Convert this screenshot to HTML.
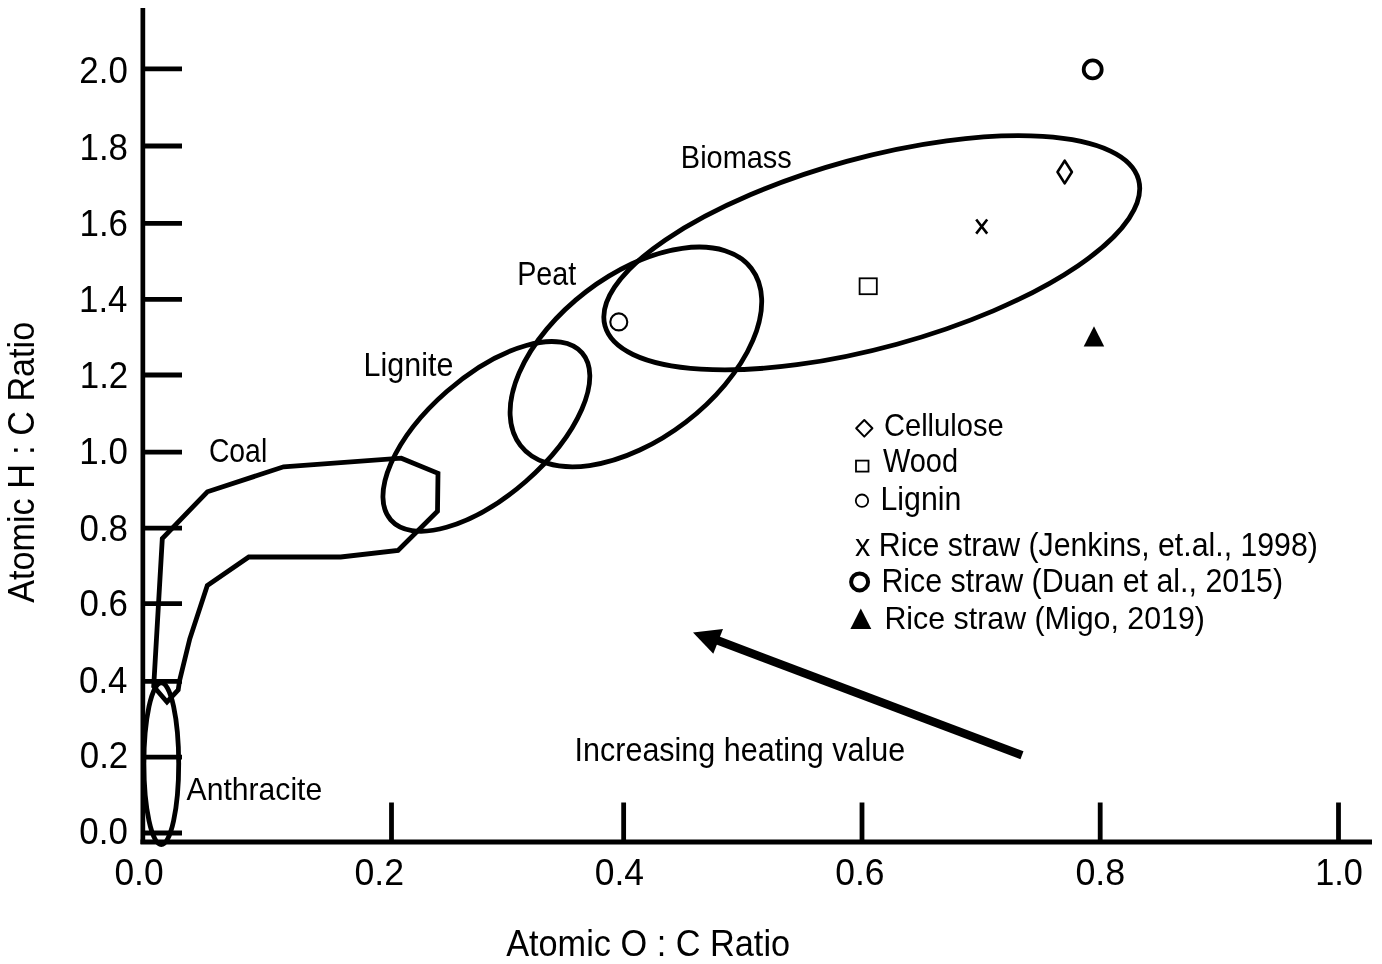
<!DOCTYPE html>
<html><head><meta charset="utf-8"><style>
html,body{margin:0;padding:0;background:#fff;width:1382px;height:964px;overflow:hidden}
svg{display:block;will-change:transform}
text{font-family:"Liberation Sans",sans-serif}
</style></head><body>
<svg width="1382" height="964" viewBox="0 0 1382 964">
<rect width="1382" height="964" fill="#fff"/>
<g fill="none" stroke="#000" stroke-width="4.8">
<path d="M142.85 8 V844" stroke-width="4.7"/>
<path d="M140.5 842 H1372" stroke-width="4.8"/>
<path d="M142.6 68.9 H182" stroke-width="4.8"/>
<path d="M142.6 146 H182" stroke-width="4.8"/>
<path d="M142.6 223.45 H182" stroke-width="4.8"/>
<path d="M142.6 299.4 H182" stroke-width="4.8"/>
<path d="M142.6 375 H182" stroke-width="4.8"/>
<path d="M142.6 452.1 H182" stroke-width="4.8"/>
<path d="M142.6 528.1 H182" stroke-width="4.8"/>
<path d="M142.6 603.7 H182" stroke-width="4.8"/>
<path d="M142.6 681.3 H182" stroke-width="4.8"/>
<path d="M142.6 757.2 H182" stroke-width="4.8"/>
<path d="M142.6 833 H182" stroke-width="4.8"/>
<path d="M391.5 802.5 V842" stroke-width="4.8"/>
<path d="M623.65 802.5 V842" stroke-width="4.8"/>
<path d="M862 802.5 V842" stroke-width="4.8"/>
<path d="M1100.2 802.5 V842" stroke-width="4.8"/>
<path d="M1338.5 802.5 V842" stroke-width="4.8"/>
<ellipse cx="871.77" cy="252.79" rx="276.63" ry="94.78" transform="rotate(164.66 871.77 252.79)"/>
<ellipse cx="635.9" cy="356.9" rx="145.48" ry="82.07" transform="rotate(142.55 635.9 356.9)"/>
<ellipse cx="486.38" cy="436.37" rx="126.95" ry="59.83" transform="rotate(138.91 486.38 436.37)"/>
<ellipse cx="161.3" cy="763.7" rx="17.4" ry="80.8"/>
<polygon stroke-linejoin="miter" points="167,702 153.7,686.5 162.3,538.5 207.4,491.8 283.6,466.8 401.3,458.2 438,473.4 437.5,511.2 398,550.5 340.7,557 248.8,557 207.3,585.6 189.8,638.8 179.5,681 178.2,690"/>
</g>
<g fill="none" stroke="#000">
<circle cx="1092.7" cy="69.4" r="9" stroke-width="3.8"/>
<polygon points="1064.7,160.7 1071.9,172 1064.7,183.4 1057.5,172" stroke-width="2.6" stroke-linejoin="round"/>
<path d="M976.2 219.5 L987.2 233.6 M987.2 219.5 L976.2 233.6" stroke-width="2.6"/>
<rect x="859.6" y="278.3" width="17.2" height="15.9" stroke-width="1.8"/>
<circle cx="618.8" cy="321.9" r="8.5" stroke-width="2.1"/>
<polygon points="864.3,420 872.4,428.3 864.3,436.6 856.2,428.3" stroke-width="2" stroke-linejoin="round"/>
<rect x="856" y="460.6" width="12.5" height="11" stroke-width="1.8"/>
<circle cx="862" cy="500.7" r="6.2" stroke-width="1.8"/>
<circle cx="859.6" cy="581.9" r="8.5" stroke-width="4"/>
</g>
<g fill="#000">
<polygon points="1094,326.2 1104.2,346.5 1083.7,346.5"/>
<polygon points="860.8,608.4 871.3,628.9 850.4,628.9"/>
<path d="M1022 755.3 L708 636.8" stroke="#000" stroke-width="8.5"/>
<polygon points="693,632.4 723,629.1 713.3,653.7"/>
</g>
<g font-family="Liberation Sans, sans-serif" fill="#000">
<text x="79.37" y="83.31" font-size="36.50" textLength="48.46" lengthAdjust="spacingAndGlyphs">2.0</text>
<text x="79.55" y="160.36" font-size="36.50" textLength="48.46" lengthAdjust="spacingAndGlyphs">1.8</text>
<text x="79.55" y="236.11" font-size="36.50" textLength="48.46" lengthAdjust="spacingAndGlyphs">1.6</text>
<text x="79.06" y="312.11" font-size="36.50" textLength="48.46" lengthAdjust="spacingAndGlyphs">1.4</text>
<text x="79.79" y="387.94" font-size="36.50" textLength="48.46" lengthAdjust="spacingAndGlyphs">1.2</text>
<text x="79.37" y="463.76" font-size="36.50" textLength="48.46" lengthAdjust="spacingAndGlyphs">1.0</text>
<text x="79.55" y="540.86" font-size="36.50" textLength="48.46" lengthAdjust="spacingAndGlyphs">0.8</text>
<text x="79.55" y="616.36" font-size="36.50" textLength="48.46" lengthAdjust="spacingAndGlyphs">0.6</text>
<text x="79.06" y="692.66" font-size="36.50" textLength="48.46" lengthAdjust="spacingAndGlyphs">0.4</text>
<text x="79.79" y="768.06" font-size="36.50" textLength="48.46" lengthAdjust="spacingAndGlyphs">0.2</text>
<text x="79.37" y="844.11" font-size="36.50" textLength="48.46" lengthAdjust="spacingAndGlyphs">0.0</text>
<text x="114.42" y="885.13" font-size="36.86" textLength="49.13" lengthAdjust="spacingAndGlyphs">0.0</text>
<text x="354.41" y="885.13" font-size="36.86" textLength="49.58" lengthAdjust="spacingAndGlyphs">0.2</text>
<text x="594.72" y="885.13" font-size="36.86" textLength="49.32" lengthAdjust="spacingAndGlyphs">0.4</text>
<text x="835.22" y="885.13" font-size="36.86" textLength="49.31" lengthAdjust="spacingAndGlyphs">0.6</text>
<text x="1075.40" y="885.13" font-size="36.86" textLength="49.85" lengthAdjust="spacingAndGlyphs">0.8</text>
<text x="1315.19" y="885.13" font-size="36.86" textLength="47.72" lengthAdjust="spacingAndGlyphs">1.0</text>
<text x="506.13" y="956.30" font-size="37.00" textLength="283.97" lengthAdjust="spacingAndGlyphs">Atomic O : C Ratio</text>
<g transform="translate(34 0) rotate(-90)"><text x="-602.77" y="0.00" font-size="36.50" textLength="280.97" lengthAdjust="spacingAndGlyphs">Atomic H : C Ratio</text></g>
<text x="680.83" y="167.60" font-size="31.50" textLength="111.00" lengthAdjust="spacingAndGlyphs">Biomass</text>
<text x="517.15" y="284.70" font-size="32.30" textLength="59.06" lengthAdjust="spacingAndGlyphs">Peat</text>
<text x="363.60" y="375.60" font-size="32.50" textLength="89.73" lengthAdjust="spacingAndGlyphs">Lignite</text>
<text x="208.88" y="462.10" font-size="32.30" textLength="58.31" lengthAdjust="spacingAndGlyphs">Coal</text>
<text x="186.54" y="799.70" font-size="32.00" textLength="135.70" lengthAdjust="spacingAndGlyphs">Anthracite</text>
<text x="883.94" y="435.80" font-size="32.00" textLength="119.75" lengthAdjust="spacingAndGlyphs">Cellulose</text>
<text x="882.88" y="472.40" font-size="32.30" textLength="75.18" lengthAdjust="spacingAndGlyphs">Wood</text>
<text x="880.52" y="509.50" font-size="32.50" textLength="80.82" lengthAdjust="spacingAndGlyphs">Lignin</text>
<text x="855.06" y="556.00" font-size="31.50" textLength="15.34" lengthAdjust="spacingAndGlyphs">x</text>
<text x="878.82" y="555.90" font-size="32.40" textLength="439.06" lengthAdjust="spacingAndGlyphs">Rice straw (Jenkins, et.al., 1998)</text>
<text x="881.41" y="592.30" font-size="32.30" textLength="401.67" lengthAdjust="spacingAndGlyphs">Rice straw (Duan et al., 2015)</text>
<text x="884.41" y="628.90" font-size="32.00" textLength="320.47" lengthAdjust="spacingAndGlyphs">Rice straw (Migo, 2019)</text>
<text x="574.59" y="760.60" font-size="32.50" textLength="330.64" lengthAdjust="spacingAndGlyphs">Increasing heating value</text>
</g>
</svg>
</body></html>
